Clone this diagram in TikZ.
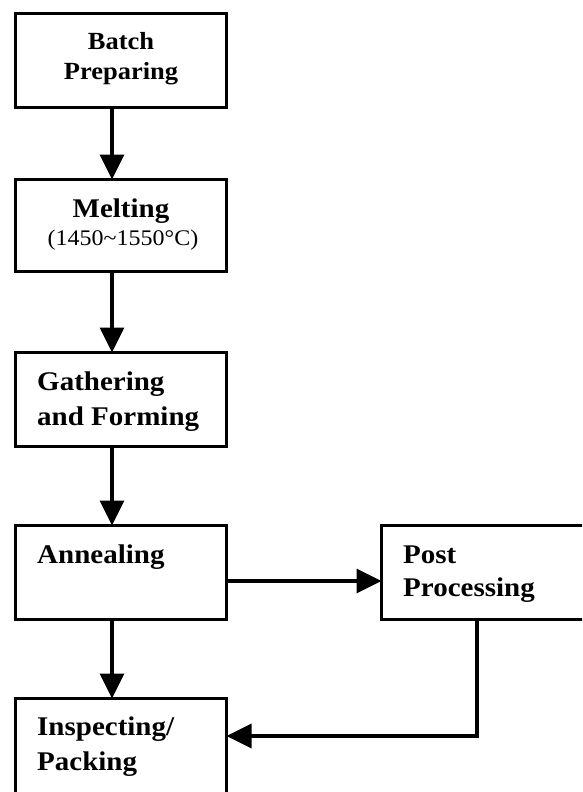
\documentclass[tikz,border=0pt]{standalone}
\usepackage{fontspec}
\setmainfont{Liberation Serif}
\usetikzlibrary{arrows.meta}
\newcommand{\sqz}[1]{\scalebox{1}[0.93]{#1}}
\begin{document}
\begin{tikzpicture}[x=1pt,y=-1pt,
  box/.style={draw=black,line width=3.2pt,rectangle,inner sep=0pt,outer sep=0pt,minimum width=211pt},
  lbl/.style={inner sep=0pt,font=\bfseries\fontsize{29}{35}\selectfont},
  lblsm/.style={inner sep=0pt,font=\bfseries\fontsize{26.5}{31}\selectfont},
  sub/.style={inner sep=0pt,font=\fontsize{24}{29}\selectfont},
  flow/.style={line width=3.2pt,-{Triangle[length=25pt,width=24pt]}}]
\path[use as bounding box,clip] (0,0) rectangle (582,792);
% boxes
\node[box,minimum height=94pt] (b1) at (121,60.5) {};
\node[box,minimum height=92pt] (b2) at (121,225.5) {};
\node[box,minimum height=94pt] (b3) at (121,399.5) {};
\node[box,minimum height=94pt] (b4) at (121,572.5) {};
\node[box,minimum height=94pt] (b5) at (487,572.5) {};
\node[box,minimum height=98pt] (b6) at (121,747.5) {};
% texts
\node[lblsm,anchor=base] (t1a) at (121,49) {\sqz{Batch}};
\node[lblsm,anchor=base] (t1b) at (121,80) {\sqz{Preparing}};
\node[lbl,anchor=base] (t2a) at (121,217) {\sqz{Melting}};
\node[sub,anchor=base] (t2b) at (123,245) {\sqz{(1450\textasciitilde1550°C)}};
\node[lbl,anchor=base west] (t3a) at (37,390) {\sqz{Gathering}};
\node[lbl,anchor=base west] (t3b) at (37,425) {\sqz{and Forming}};
\node[lbl,anchor=base west] (t4) at (37,563) {\sqz{Annealing}};
\node[lbl,anchor=base west] (t5a) at (403,563) {\sqz{Post}};
\node[lbl,anchor=base west] (t5b) at (403,596) {\sqz{Processing}};
\node[lbl,anchor=base west] (t6a) at (37,735) {\sqz{Inspecting/}};
\node[lbl,anchor=base west] (t6b) at (37,770) {\sqz{Packing}};
% connector guides
\coordinate (ax) at (112,0);
\coordinate (hy) at (0,581);
\coordinate (rc) at (477,736);
% connectors
\draw[flow] (b1.south -| ax) -- (b2.north -| ax);
\draw[flow] (b2.south -| ax) -- (b3.north -| ax);
\draw[flow] (b3.south -| ax) -- (b4.north -| ax);
\draw[flow] (b4.south -| ax) -- (b6.north -| ax);
\draw[flow] (b4.east |- hy) -- (b5.west |- hy);
\draw[flow] (b5.south -| rc) |- (b6.east |- rc);
\end{tikzpicture}
\end{document}
